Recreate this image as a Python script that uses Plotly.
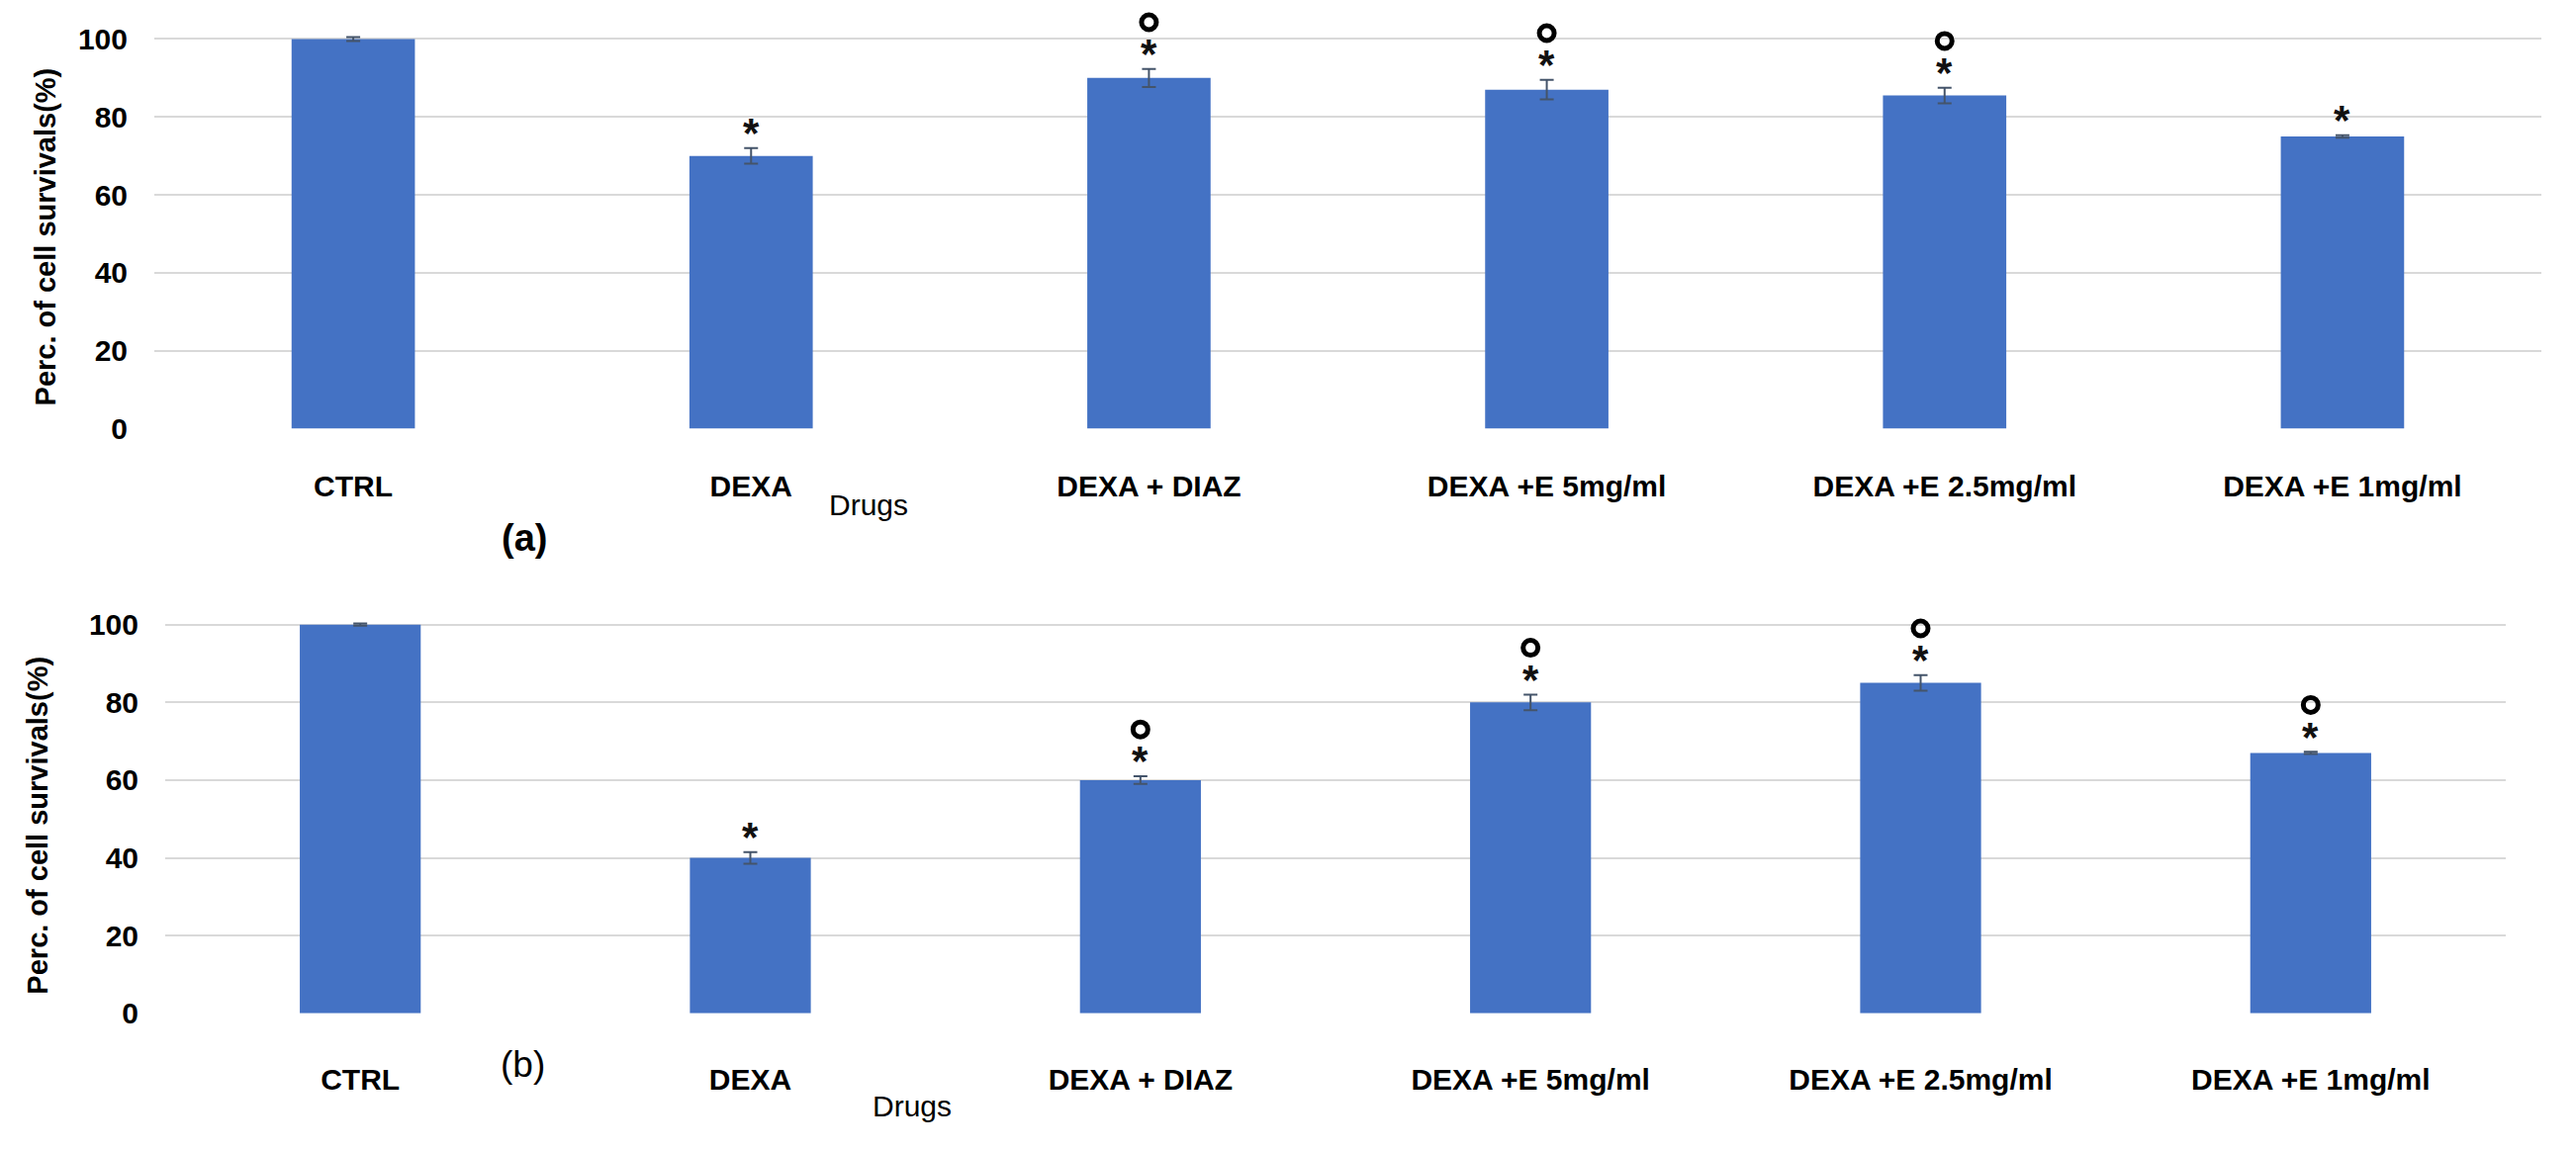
import plotly.graph_objects as go

categories = ["CTRL", "DEXA", "DEXA + DIAZ", "DEXA +E 5mg/ml", "DEXA +E 2.5mg/ml", "DEXA +E 1mg/ml"]

values_a = [100, 70, 90, 87, 85.5, 75]
errors_a = [0.5, 2.0, 2.3, 2.5, 2.0, 0.3]
star_a = [False, True, True, True, True, True]
circle_a = [False, False, True, True, True, False]

values_b = [100, 40, 60, 80, 85, 67]
errors_b = [0.3, 1.5, 1.0, 2.0, 2.0, 0.3]
star_b = [False, True, True, True, True, True]
circle_b = [False, False, True, True, True, True]

y_ticks = [0, 20, 40, 60, 80, 100]

W, H = 2604, 1164
BAR = "#4472C4"
ERR = "#44546A"
FONT = "Liberation Sans"

# panel geometry (pixels): y=100 at TOP, y=0 at BOT
TOP_A, BOT_A = 40, 440
TOP_B, BOT_B = 641, 1040
YMAX = 108  # headroom above 100 for significance marks

def px(x):
    return x / W

def py(y):
    return 1 - y / H

def dom(top, bot):
    top_ext = bot - (bot - top) * YMAX / 100.0
    return [py(bot), py(top_ext)]

fig = go.Figure()

err_common = dict(type="data", symmetric=True, color=ERR, thickness=2, width=7)

fig.add_trace(go.Bar(x=categories, y=values_a, width=0.31, marker=dict(color=BAR, line=dict(width=0)),
                     error_y=dict(array=errors_a, **err_common), xaxis="x", yaxis="y", showlegend=False))
fig.add_trace(go.Bar(x=categories, y=values_b, width=0.31, marker=dict(color=BAR, line=dict(width=0)),
                     error_y=dict(array=errors_b, **err_common), xaxis="x2", yaxis="y2", showlegend=False))

annotations = []
RING_OFFSET_PX = 48
for (vals, errs, stars, circles, xr, yr, top_px, bot_px) in [
    (values_a, errors_a, star_a, circle_a, "x", "y", TOP_A, BOT_A),
    (values_b, errors_b, star_b, circle_b, "x2", "y2", TOP_B, BOT_B),
]:
    units_per_px = 100.0 / (bot_px - top_px)
    rx, ry = [], []
    for c, v, e, s, o in zip(categories, vals, errs, stars, circles):
        if s:
            annotations.append(dict(x=c, y=v + e, xref=xr, yref=yr, text="*", showarrow=False,
                                    xanchor="center", yanchor="middle", yshift=15,
                                    font=dict(family=FONT, size=42, color="#111111", weight="bold")))
        if o:
            rx.append(c)
            ry.append(v + e + RING_OFFSET_PX * units_per_px)
    fig.add_trace(go.Scatter(x=rx, y=ry, mode="markers", xaxis=xr, yaxis=yr, showlegend=False,
                             cliponaxis=False, hoverinfo="skip",
                             marker=dict(symbol="circle-open", size=15, color="#000000",
                                         line=dict(width=5, color="#000000"))))

def label(x, y, text, size, weight="bold", angle=0):
    annotations.append(dict(x=px(x), y=py(y), xref="paper", yref="paper", text=text, textangle=angle,
                            xanchor="center", yanchor="middle", showarrow=False,
                            font=dict(family=FONT, size=size, color="#000", weight=weight)))

label(46, 243, "Perc. of cell survivals(%)", 29, angle=-90)
label(38, 847, "Perc. of cell survivals(%)", 29, angle=-90)
label(878, 518, "Drugs", 30, weight="normal")
label(922, 1135, "Drugs", 30, weight="normal")
label(530, 552, "(a)", 38)
label(528, 1092, "(b)", 37, weight="normal")

xcommon = dict(showgrid=False, zeroline=False, showline=False, ticks="",
               tickfont=dict(family=FONT, size=30, color="#000", weight="bold"), ticklabelstandoff=37)
ycommon = dict(range=[0, YMAX], tickvals=y_ticks, showgrid=True, gridcolor="#D9D9D9", gridwidth=2,
               zeroline=False, showline=False, ticks="",
               tickfont=dict(family=FONT, size=30, color="#000", weight="bold"), ticklabelstandoff=26)

fig.update_layout(
    width=W, height=H,
    margin=dict(l=0, r=0, t=0, b=0),
    paper_bgcolor="white", plot_bgcolor="white",
    xaxis=dict(domain=[px(156), px(2569)], anchor="y", **xcommon),
    yaxis=dict(domain=dom(TOP_A, BOT_A), anchor="x", **ycommon),
    xaxis2=dict(domain=[px(167), px(2533)], anchor="y2", **dict(xcommon, ticklabelstandoff=46)),
    yaxis2=dict(domain=dom(TOP_B, BOT_B), anchor="x2", **ycommon),
    annotations=annotations,
)

fig.write_html("out.html", config={"displayModeBar": False},
               post_script="document.body.style.margin='0';document.body.style.overflow='hidden';")
